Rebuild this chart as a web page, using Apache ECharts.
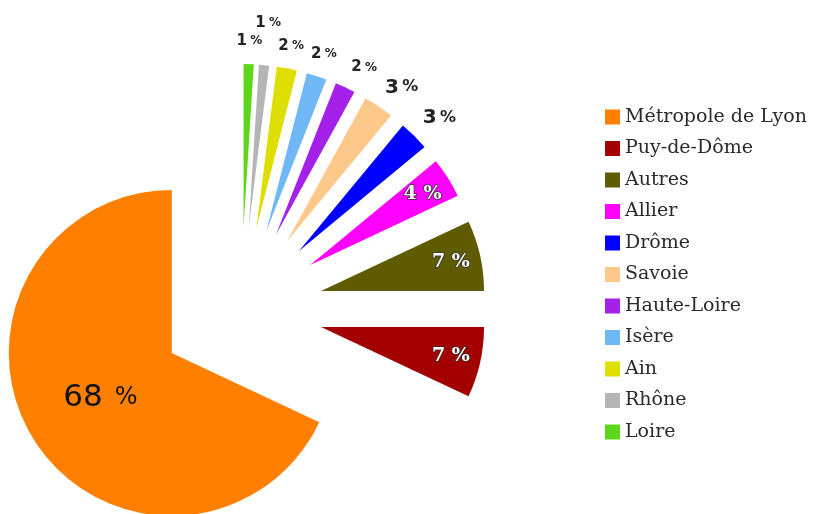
<!DOCTYPE html>
<html>
<head>
<meta charset="utf-8">
<script src="https://cdn.jsdelivr.net/npm/echarts@6/dist/echarts.min.js"></script>
<style>
html,body{margin:0;padding:0;background:#fff;}
#main{width:827px;height:514px;}
</style>
</head>
<body>
<div id="main"></div>
<script>
// ---- data ----
var categories = ["Métropole de Lyon","Puy-de-Dôme","Autres","Allier","Drôme","Savoie","Haute-Loire","Isère","Ain","Rhône","Loire"];
var values = [68, 7, 7, 4, 3, 3, 2, 2, 2, 1, 1];
var colors = ["#ff8000","#a30000","#5e5b00","#ff00ff","#0000ff","#fcc98a","#a321e8","#6fb8f5","#dede00","#b5b5b5","#5fd61a"];

// ---- label groups (styling only) ----
var insideSmall = ["Puy-de-Dôme","Autres","Allier"];
var outsideSmall = ["Drôme","Savoie","Haute-Loire","Isère","Ain","Rhône","Loire"];
var labelNudge = { "Rhône": [2, -19], "Haute-Loire": [9, 1], "Savoie": [10, 0], "Drôme": [9, -2] };

var CX = 241, CY = 309, R = 163, OFF = 82;

function mainData() {
  return categories.map(function (n, i) {
    return {
      name: n, value: values[i], selected: true,
      itemStyle: { color: colors[i] },
      label: { show: n === "Métropole de Lyon" }
    };
  });
}
function helperData(group, extra) {
  return categories.map(function (n, i) {
    var d = { name: n, value: values[i], selected: true, label: { show: group.indexOf(n) >= 0 } };
    if (extra) extra(d, n, i);
    return d;
  });
}

var transparent = { color: "rgba(0,0,0,0)" };
var noHide = function () { return { hideOverlap: false }; };

var option = {
  animation: false,
  legend: {
    orient: "vertical",
    left: 600, top: 101,
    itemWidth: 15, itemHeight: 15,
    itemGap: 9.5,
    icon: "rect",
    selectedMode: false,
    data: categories,
    textStyle: { fontFamily: "DejaVu Serif", fontSize: 19, color: "#2a2a2a", lineHeight: 22 }
  },
  series: [
    {
      type: "pie",
      center: [CX, CY], radius: [0, R],
      startAngle: 90, clockwise: false,
      selectedMode: "multiple", selectedOffset: OFF,
      avoidLabelOverlap: false,
      emphasis: { disabled: true },
      label: {
        position: "inside", rotate: 0,
        formatter: "{n|{c}}{p|%}",
        rich: {
          n: { fontFamily: "DejaVu Sans", fontSize: 31, color: "#111" },
          p: { fontFamily: "DejaVu Sans", fontSize: 24, color: "#111", padding: [0, 0, 0, 12] }
        }
      },
      labelLine: { show: false },
      labelLayout: noHide,
      data: mainData()
    },
    {
      type: "pie", silent: true,
      center: [CX, CY], radius: [97, R],
      startAngle: 90, clockwise: false,
      selectedMode: "multiple", selectedOffset: OFF,
      avoidLabelOverlap: false,
      emphasis: { disabled: true },
      itemStyle: transparent,
      label: {
        position: "inside", rotate: 0,
        formatter: "{c} %",
        fontFamily: "DejaVu Serif", fontWeight: "bold", fontSize: 19,
        color: "#fff", textBorderColor: "#333", textBorderWidth: 1.5
      },
      labelLine: { show: false },
      labelLayout: noHide,
      data: helperData(insideSmall)
    },
    {
      type: "pie", silent: true,
      center: [CX, CY], radius: [R, R + 40],
      startAngle: 90, clockwise: false,
      selectedMode: "multiple", selectedOffset: OFF,
      avoidLabelOverlap: false,
      emphasis: { disabled: true },
      itemStyle: transparent,
      label: {
        position: "inside", rotate: 0,
        formatter: "{n|{c}} {p|%}",
        rich: {
          n: { fontFamily: "DejaVu Sans", fontWeight: "bold", fontSize: 15, color: "#222" },
          p: { fontFamily: "DejaVu Sans", fontWeight: "bold", fontSize: 12, color: "#222" }
        }
      },
      labelLine: { show: false },
      labelLayout: function (p) {
        var nd = labelNudge[categories[p.dataIndex]] || [0, 0];
        return { hideOverlap: false, dx: nd[0], dy: nd[1] };
      },
      data: helperData(outsideSmall, function (d, n, i) {
        if (values[i] >= 3) {
          d.label.rich = {
            n: { fontFamily: "DejaVu Sans", fontWeight: "bold", fontSize: 20, color: "#222" },
            p: { fontFamily: "DejaVu Sans", fontWeight: "bold", fontSize: 16, color: "#222" }
          };
        }
      })
    }
  ]
};

var chart = echarts.init(document.getElementById("main"), null, { renderer: "canvas" });
chart.setOption(option);
</script>
</body>
</html>
